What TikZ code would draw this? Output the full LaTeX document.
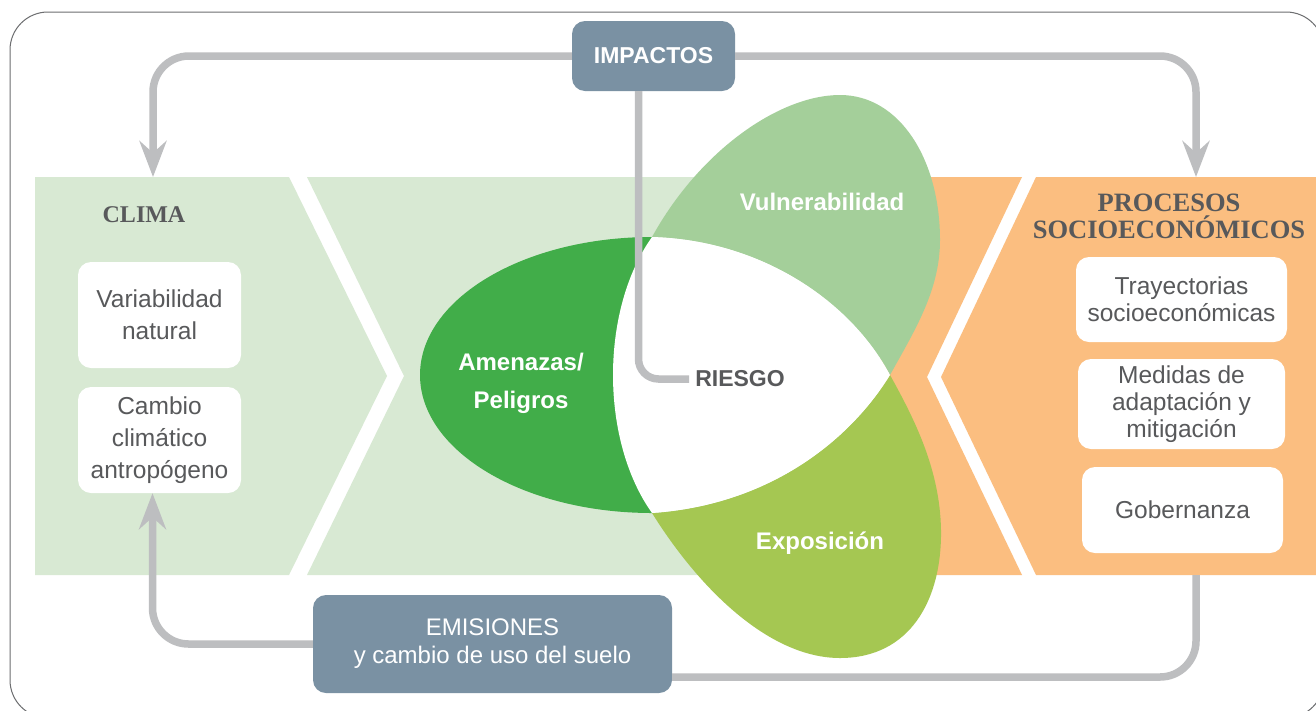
\documentclass[tikz,border=0pt]{standalone}
\usepackage{fontspec}
\setmainfont{Liberation Sans}
\newfontfamily\headfont{Liberation Serif}
\usetikzlibrary{arrows.meta}
\definecolor{bandgreen}{HTML}{D8E9D3}
\definecolor{bandorange}{HTML}{FBBE80}
\definecolor{amengreen}{HTML}{41AD49}
\definecolor{vulngreen}{HTML}{A4CF9A}
\definecolor{expogreen}{HTML}{A5C752}
\definecolor{slate}{HTML}{7A91A3}
\definecolor{linegray}{HTML}{BDBEC0}
\definecolor{txtgray}{HTML}{58595B}
\definecolor{framegray}{HTML}{6D6E70}
\begin{document}
\begin{tikzpicture}[x=1pt,y=-1pt,
  gline/.style={draw=linegray, line width=7.5pt, rounded corners=36pt},
  garrow/.style={gline, -{Stealth[length=36pt,width=27pt,inset=12pt]}},
  wbox/.style={fill=white, rounded corners=13pt, align=center, text=txtgray, inner sep=0pt},
  sbox/.style={fill=slate, rounded corners=13pt, align=center, text=white, inner sep=0pt},
  petal/.style={text=white, font=\bfseries\fontsize{24}{38}\selectfont, align=center},
  head/.style={text=txtgray, align=center}]
\useasboundingbox (0,0) rectangle (1316,710);
\fill[white] (0,0) rectangle (1316,710);
% frame
\draw[framegray, line width=1pt, rounded corners=38pt] (10,12) rectangle (1324,718);
% bands
\fill[bandgreen] (35,177) -- (289,177) -- (387,376) -- (289,575) -- (35,575) -- cycle;
\fill[bandgreen] (307,177) -- (880,177) -- (880,575) -- (307,575) -- (404,376) -- cycle;
\fill[bandorange] (880,177) -- (1022,177) -- (927,377) -- (1022,575) -- (880,575) -- cycle;
\fill[bandorange] (1036,177) -- (1330,177) -- (1330,575) -- (1036,575) -- (941,377) -- cycle;
% petals
\fill[amengreen] (652,237) arc[start angle=90, end angle=270, x radius=232pt, y radius=138pt] -- cycle;
\fill[vulngreen] (652,237) .. controls (700,150) and (780,95) .. (840,95)
  .. controls (900,95) and (940,160) .. (940,240)
  .. controls (940,290) and (915,330) .. (890,375)
  .. controls (850,300) and (760,240) .. (652,237) -- cycle;
\fill[expogreen] (652,513) .. controls (700,590) and (770,658) .. (840,658)
  .. controls (910,658) and (942,600) .. (941,530)
  .. controls (940,470) and (915,420) .. (890,375)
  .. controls (850,440) and (770,505) .. (652,513) -- cycle;
\fill[white] (652,237) .. controls (760,240) and (850,300) .. (890,375)
  .. controls (850,440) and (770,505) .. (652,513)
  .. controls (600,440) and (600,310) .. (652,237) -- cycle;
% nodes
\node[sbox, minimum width=163pt, minimum height=70pt, font=\bfseries\fontsize{23}{26}\selectfont] (imp) at (653.5,56) {IMPACTOS};
\node[sbox, minimum width=359pt, minimum height=98pt, font=\fontsize{24}{28}\selectfont] (emi) at (492.5,644) {EMISIONES\\y cambio de uso del suelo};
\node[text=txtgray, font=\bfseries\fontsize{23}{26}\selectfont, inner sep=6pt] (riesgo) at (740,379) {RIESGO};
\node[petal] (vul) at (822,202) {Vulnerabilidad};
\node[petal] (ame) at (521,383) {Amenazas/\\Peligros};
\node[petal] (exp) at (820,543) {Exposición};
\node[head, font=\headfont\bfseries\fontsize{24}{27}\selectfont] (clima) at (144,215) {CLIMA};
\node[head, font=\headfont\bfseries\fontsize{26.5}{27}\selectfont] (proc) at (1169,216) {PROCESOS\\SOCIOECONÓMICOS};
\node[wbox, minimum width=163pt, minimum height=106pt, font=\fontsize{24.5}{32}\selectfont] (var) at (159.5,315) {Variabilidad\\natural};
\node[wbox, minimum width=163pt, minimum height=106pt, font=\fontsize{24.5}{32}\selectfont] (cambio) at (159.5,440) {Cambio\\climático\\antropógeno};
\node[wbox, minimum width=211pt, minimum height=85pt, font=\fontsize{24.5}{27}\selectfont] (tray) at (1181.5,299.5) {Trayectorias\\socioeconómicas};
\node[wbox, minimum width=207pt, minimum height=90pt, font=\fontsize{24.5}{27}\selectfont] (med) at (1181.5,404) {Medidas de\\adaptación y\\mitigación};
\node[wbox, minimum width=201pt, minimum height=86pt, font=\fontsize{24.5}{27}\selectfont] (gob) at (1182.5,510) {Gobernanza};
% connector end points
\coordinate (climatop) at (153,177);
\coordinate (proctop) at (1196,177);
\coordinate (procbot) at (1196,575);
% connectors
\draw[garrow] (imp.west) -| (climatop);
\draw[garrow] (imp.east) -| (proctop);
\draw[gline, rounded corners=20pt] ([xshift=-15pt]imp.south) |- (riesgo.west);
\draw[gline] (procbot) |- ([yshift=-33pt]emi.east);
\draw[garrow] (emi.west) -| ([xshift=-7pt]cambio.south);
\end{tikzpicture}
\end{document}
